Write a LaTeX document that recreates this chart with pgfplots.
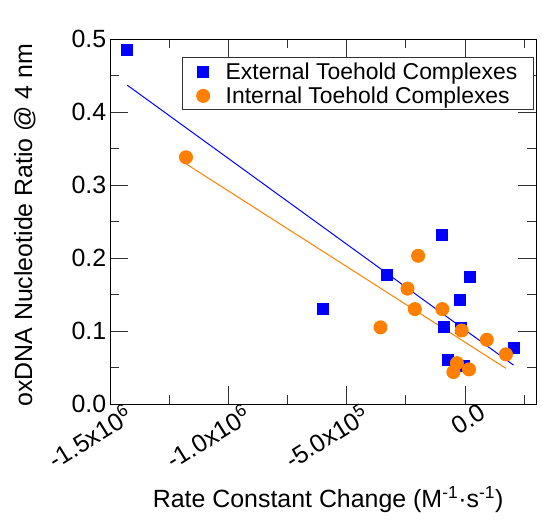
\documentclass[border=0pt]{standalone}
\usepackage{pgfplots}
\pgfplotsset{compat=1.18}
\usepackage{fontspec}
\setmainfont{Liberation Sans}
\definecolor{ser1}{RGB}{0,0,255}
\definecolor{ser2}{RGB}{255,128,0}
\definecolor{axc}{RGB}{50,50,50}
\begin{document}
\begin{tikzpicture}
\begin{axis}[
  at={(0,0)},
  scale only axis,
  width=426bp, height=365bp,
  xmin=-1.5e6, xmax=3e5,
  ymin=0, ymax=0.5,
  scaled x ticks=false, scaled y ticks=false,
  /pgf/number format/assume math mode=true,
  font=\fontsize{25}{30}\selectfont,
  line width=1pt,
  tick align=inside,
  major tick length=18bp, minor tick length=9bp,
  tick style={axc, line width=1pt},
  xtick={-1.5e6,-1e6,-5e5,0},
  minor xtick={-1.25e6,-7.5e5,-2.5e5,2.5e5},
  xticklabels={-1.5x10\textsuperscript{6},-1.0x10\textsuperscript{6},-5.0x10\textsuperscript{5},0.0},
  xticklabel style={rotate=32, anchor=north east, xshift=16bp, yshift=-2bp},
  ytick={0,0.1,0.2,0.3,0.4,0.5},
  minor ytick={0.05,0.15,0.25,0.35,0.45},
  yticklabel style={/pgf/number format/fixed, /pgf/number format/precision=1, /pgf/number format/fixed zerofill},
  xlabel={Rate Constant Change (M\textsuperscript{-1}·s\textsuperscript{-1})},
  xlabel style={at={(axis description cs:0.512,-0.263)}, anchor=center},
  ylabel={oxDNA Nucleotide Ratio @ 4 nm},
  ylabel style={at={(axis description cs:-0.2,0.49)}, anchor=center},
  legend style={at={(0.995,0.95)}, anchor=north east, draw=axc, line width=1pt, font=\fontsize{23}{27}\selectfont, row sep=2bp, inner xsep=14bp, inner ysep=3bp},
  legend cell align=left,
]
\addplot[only marks, mark=square*, mark size=5.5bp, color=ser1] coordinates {
  (-1.427e6,0.485) (-0.99e5,0.232) (-3.28e5,0.177) (2.1e4,0.174) (-2.0e4,0.143)
  (-6.0e5,0.130) (-8.7e4,0.105) (-1.7e4,0.104) (2.05e5,0.0765) (-7.1e4,0.060) (-3e3,0.052)
};
\addlegendentry{\hspace{14bp}External Toehold Complexes}
\addplot[only marks, mark=*, mark size=6.5bp, color=ser2] coordinates {
  (-1.179e6,0.338) (-1.98e5,0.203) (-2.43e5,0.158) (-2.12e5,0.130) (-9.6e4,0.130)
  (-3.57e5,0.105) (-1.4e4,0.1007) (9.2e4,0.088) (1.73e5,0.068) (-3.4e4,0.056)
  (-4.9e4,0.0437) (1.7e4,0.0474)
};
\addlegendentry{\hspace{14bp}Internal Toehold Complexes}
\addplot[ser1, line width=1pt, forget plot] coordinates {(-1.427e6,0.4367) (2.05e5,0.0533)};
\addplot[ser2, line width=1pt, forget plot] coordinates {(-1.179e6,0.329) (1.73e5,0.0488)};
\end{axis}
\pgfresetboundingbox
\path (-110bp,-119bp) rectangle (434bp,404bp);
\end{tikzpicture}
\end{document}
